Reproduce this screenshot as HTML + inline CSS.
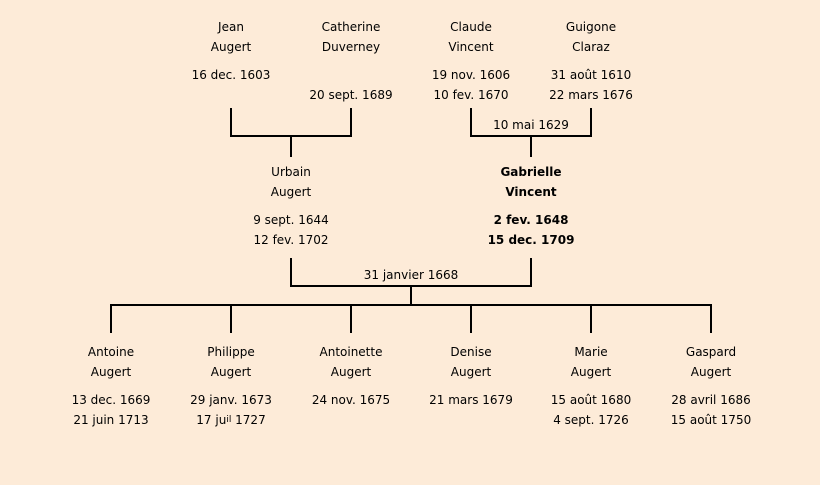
<!DOCTYPE html>
<html><head><meta charset="utf-8"><style>
html,body{margin:0;padding:0;}
body{width:820px;height:485px;background:#fdebd8;position:relative;overflow:hidden;font-family:"DejaVu Sans","Liberation Sans",sans-serif;font-size:12px;color:#000;}
.t{position:absolute;width:160px;margin-left:-80px;text-align:center;line-height:16px;white-space:nowrap;}
.b{font-weight:bold;}
svg{position:absolute;left:0;top:0;}
</style></head><body>
<svg width="820" height="485" stroke="#000" stroke-width="2" fill="none">
<polyline points="231,108 231,136 351,136 351,108"/><line x1="291" y1="136" x2="291" y2="157"/>
<polyline points="471,108 471,136 591,136 591,108"/><line x1="531" y1="136" x2="531" y2="157"/>
<polyline points="291,258 291,286 531,286 531,258"/><line x1="411" y1="286" x2="411" y2="305"/>
<line x1="110" y1="305" x2="712" y2="305"/>
<line x1="111" y1="305" x2="111" y2="333"/><line x1="231" y1="305" x2="231" y2="333"/>
<line x1="351" y1="305" x2="351" y2="333"/><line x1="471" y1="305" x2="471" y2="333"/>
<line x1="591" y1="305" x2="591" y2="333"/><line x1="711" y1="305" x2="711" y2="333"/>
</svg>
<div class="t" style="left:231px;top:19px">Jean</div><div class="t" style="left:231px;top:39px">Augert</div><div class="t" style="left:231px;top:67px">16 dec. 1603</div>
<div class="t" style="left:351px;top:19px">Catherine</div><div class="t" style="left:351px;top:39px">Duverney</div><div class="t" style="left:351px;top:87px">20 sept. 1689</div>
<div class="t" style="left:471px;top:19px">Claude</div><div class="t" style="left:471px;top:39px">Vincent</div><div class="t" style="left:471px;top:67px">19 nov. 1606</div><div class="t" style="left:471px;top:87px">10 fev. 1670</div>
<div class="t" style="left:591px;top:19px">Guigone</div><div class="t" style="left:591px;top:39px">Claraz</div><div class="t" style="left:591px;top:67px">31 août 1610</div><div class="t" style="left:591px;top:87px">22 mars 1676</div>
<div class="t" style="left:531px;top:117px">10 mai 1629</div>
<div class="t" style="left:291px;top:164px">Urbain</div><div class="t" style="left:291px;top:184px">Augert</div><div class="t" style="left:291px;top:212px">9 sept. 1644</div><div class="t" style="left:291px;top:232px">12 fev. 1702</div>
<div class="t b" style="left:531px;top:164px">Gabrielle</div><div class="t b" style="left:531px;top:184px">Vincent</div><div class="t b" style="left:531px;top:212px">2 fev. 1648</div><div class="t b" style="left:531px;top:232px">15 dec. 1709</div>
<div class="t" style="left:411px;top:267px">31 janvier 1668</div>
<div class="t" style="left:111px;top:344px">Antoine</div><div class="t" style="left:111px;top:364px">Augert</div><div class="t" style="left:111px;top:392px">13 dec. 1669</div><div class="t" style="left:111px;top:412px">21 juin 1713</div>
<div class="t" style="left:231px;top:344px">Philippe</div><div class="t" style="left:231px;top:364px">Augert</div><div class="t" style="left:231px;top:392px">29 janv. 1673</div><div class="t" style="left:231px;top:412px">17 ju<span style="font-size:9px;vertical-align:2px">il</span> 1727</div>
<div class="t" style="left:351px;top:344px">Antoinette</div><div class="t" style="left:351px;top:364px">Augert</div><div class="t" style="left:351px;top:392px">24 nov. 1675</div>
<div class="t" style="left:471px;top:344px">Denise</div><div class="t" style="left:471px;top:364px">Augert</div><div class="t" style="left:471px;top:392px">21 mars 1679</div>
<div class="t" style="left:591px;top:344px">Marie</div><div class="t" style="left:591px;top:364px">Augert</div><div class="t" style="left:591px;top:392px">15 août 1680</div><div class="t" style="left:591px;top:412px">4 sept. 1726</div>
<div class="t" style="left:711px;top:344px">Gaspard</div><div class="t" style="left:711px;top:364px">Augert</div><div class="t" style="left:711px;top:392px">28 avril 1686</div><div class="t" style="left:711px;top:412px">15 août 1750</div>
</body></html>
